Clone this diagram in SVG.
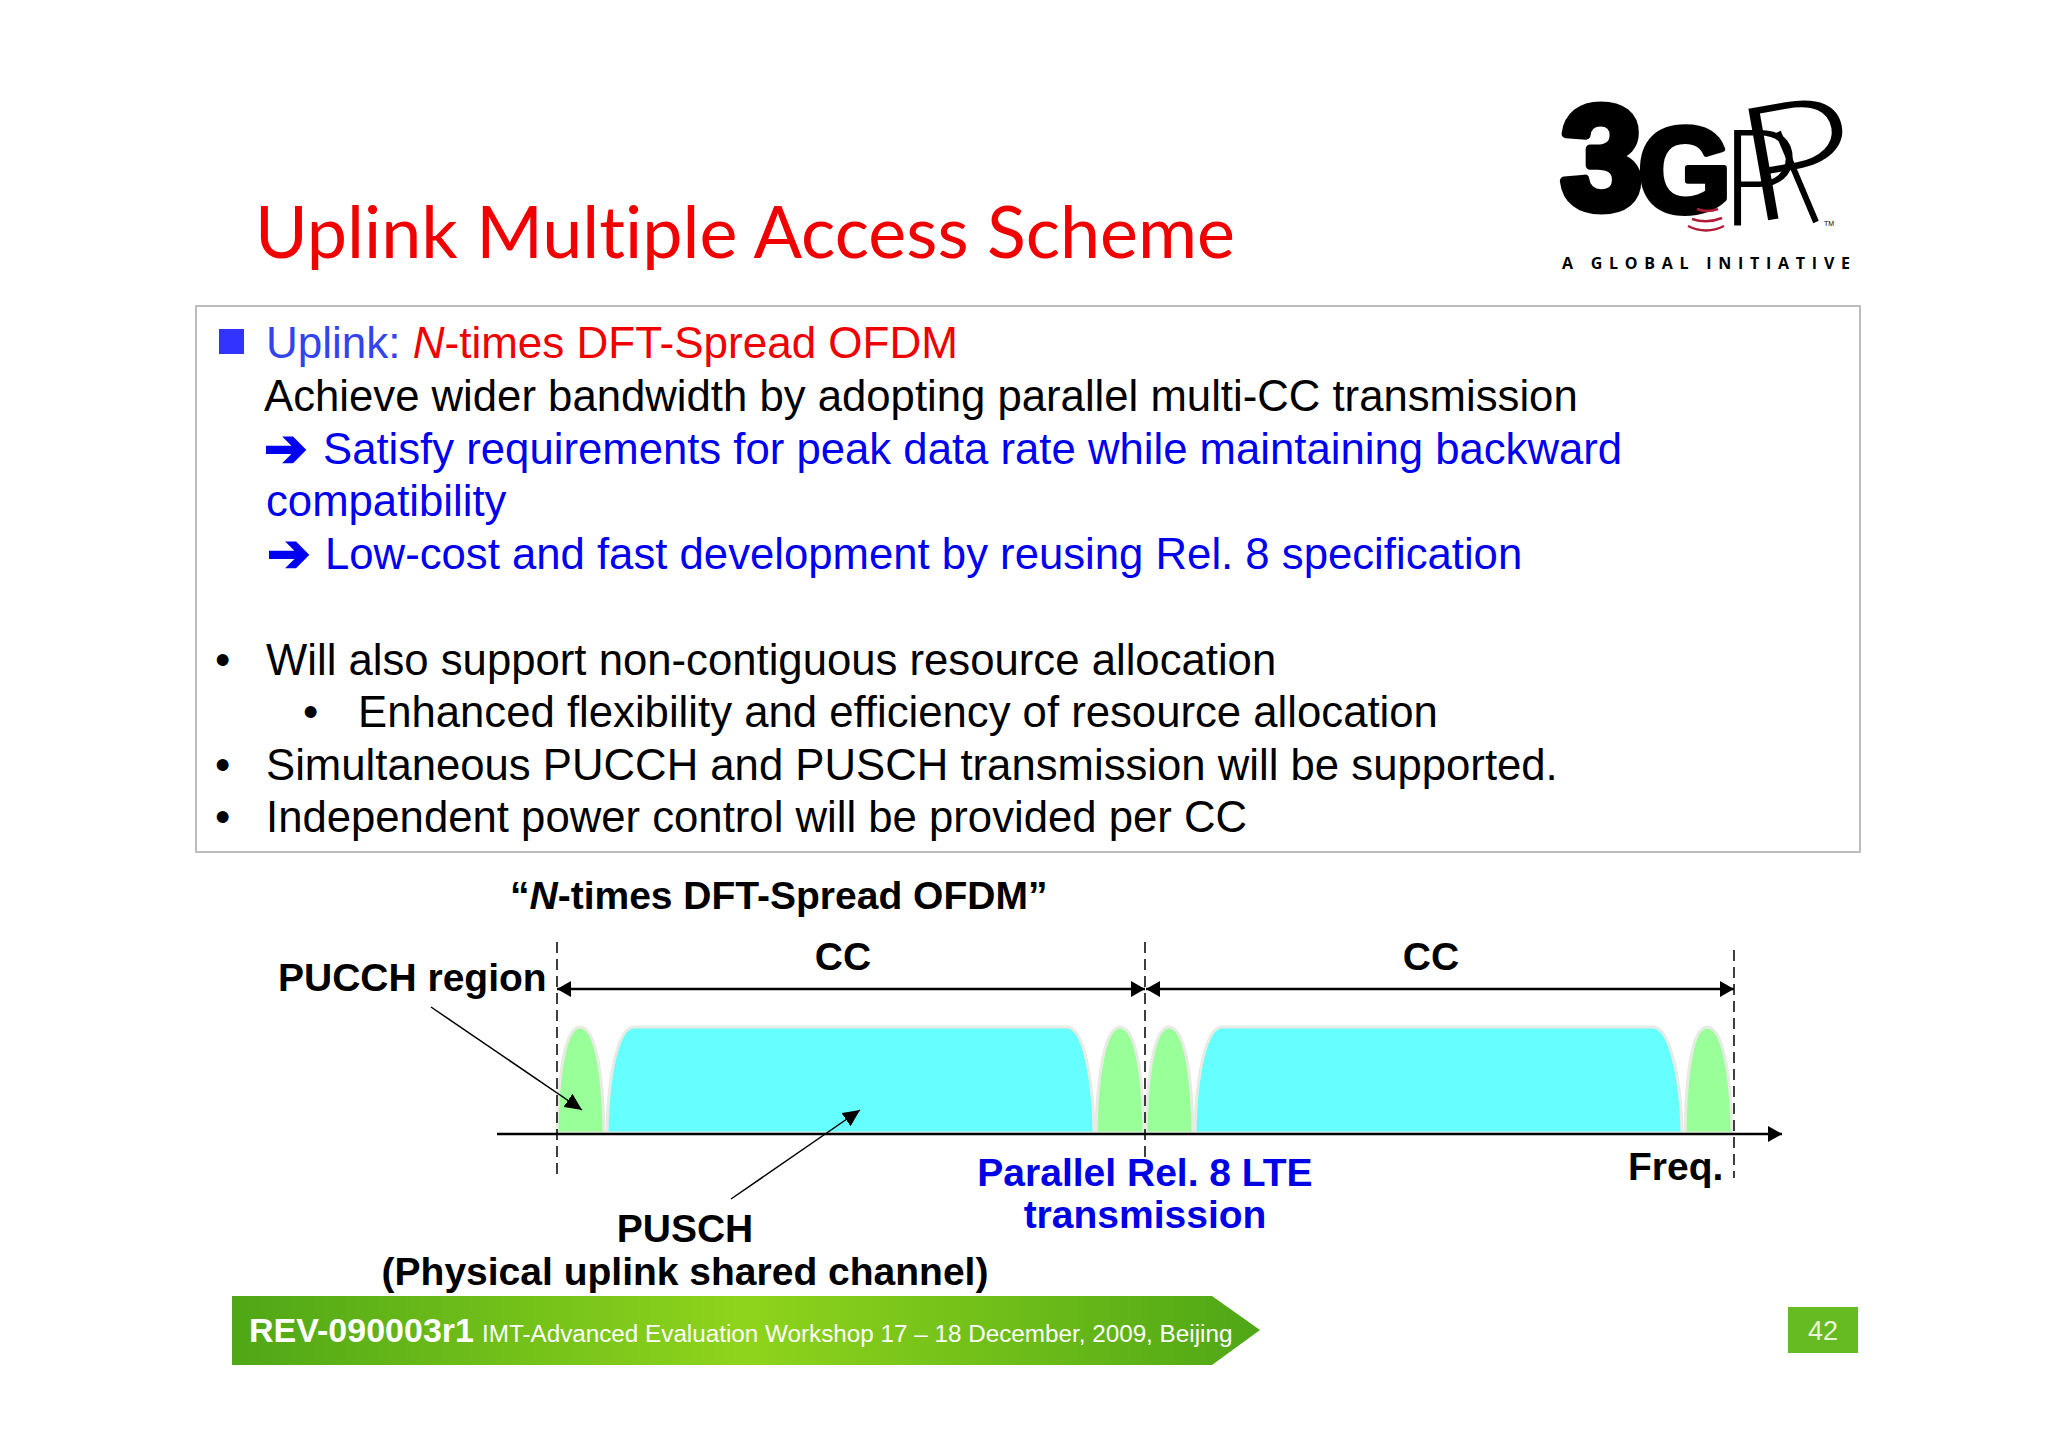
<svg xmlns="http://www.w3.org/2000/svg" width="2048" height="1447" viewBox="0 0 2048 1447">
<style>
text{font-family:"Liberation Sans",Arial,sans-serif}
.b{font-size:43.7px;fill:#000}
.bl{font-size:43.7px;fill:#0000f0}
.ar{font-family:"DejaVu Sans",sans-serif;font-size:52px;fill:#0000f0;stroke:#0000f0;stroke-width:2}
.h{font-size:39px;font-weight:bold;fill:#000}
.hb{font-size:39px;font-weight:bold;fill:#0000e6}
.m{text-anchor:middle}
.pu{fill:#66ffff;stroke:#e8ebe4;stroke-width:3}
.gr{fill:#99ff99;stroke:#e8ebe4;stroke-width:3}
.thin{stroke:#000;stroke-width:1.5;fill:none}
.dash{stroke:#000;stroke-width:1.5;stroke-dasharray:11 6;fill:none}
.line{stroke:#000;stroke-width:2.5;fill:none}
.lg{font-family:"Liberation Sans",sans-serif;font-weight:bold;fill:#000;stroke:#000;stroke-linejoin:round}
.lp{font-family:Lato,sans-serif;font-weight:300;font-size:100px;fill:#000}
</style>
<defs>
<linearGradient id="fg" x1="0" x2="1" y1="0" y2="0"><stop offset="0" stop-color="#4fa716"/><stop offset="0.5" stop-color="#8fd41c"/><stop offset="1" stop-color="#4fa716"/></linearGradient>
<marker id="ah" markerUnits="userSpaceOnUse" markerWidth="15" markerHeight="16" refX="14" refY="8" orient="auto-start-reverse"><path d="M0 0L14 8L0 16z" fill="#000"/></marker>
<marker id="ah2" markerUnits="userSpaceOnUse" markerWidth="18" markerHeight="16" refX="17" refY="8" orient="auto"><path d="M0 0L17 8L0 16z" fill="#000"/></marker>
</defs>
<rect width="2048" height="1447" fill="#fff"/>
<g id="title"><text x="255" y="258" style="font-family:Lato,sans-serif;font-size:72px;fill:#f00000;font-variant-ligatures:none" textLength="980" lengthAdjust="spacingAndGlyphs">Uplink Multiple Access Scheme</text></g>
<g id="logo">
<text class="lp" transform="translate(1720 225) scale(1.35 1.35)">P</text>
<text class="lp" transform="translate(1747 224) rotate(-10) scale(2.05 1.6)">P</text>
<path d="M1778 132L1816 222" fill="none" stroke="#000" stroke-width="6"/>
<text class="lg" transform="translate(1561 208)" style="font-size:146px;stroke-width:9">3</text>
<text class="lg" transform="translate(1638 212)" style="font-size:120px;stroke-width:6">G</text>
<path d="M1697 209q10 4 21 0M1692 219q15 5 30 -1M1688 226q18 9 36 0" fill="none" stroke="#b01c38" stroke-width="2.5"/>
<text x="1824" y="226" style="font-size:7px;fill:#000">TM</text>
<text x="1562" y="269" textLength="288" style="font-family:'Open Sans',sans-serif;font-weight:bold;font-size:16px;fill:#000" lengthAdjust="spacing">A GLOBAL INITIATIVE</text>
</g>
<g id="body">
<rect x="196" y="306" width="1664" height="546" fill="#fff" stroke="#bdbdbd" stroke-width="2"/>
<rect x="219" y="329" width="25" height="25" fill="#3333ff"/>
<text x="266" y="358" style="font-size:44px"><tspan fill="#3344ee">Uplink: </tspan><tspan fill="#f00000"><tspan font-style="italic">N</tspan>-times DFT-Spread OFDM</tspan></text>
<text class="b" x="264" y="411">Achieve wider bandwidth by adopting parallel multi-CC transmission</text>
<text class="ar" x="264" y="466">➔</text>
<text class="bl" x="323" y="464">Satisfy requirements for peak data rate while maintaining backward</text>
<text class="bl" x="266" y="516">compatibility</text>
<text class="ar" x="267" y="571">➔</text>
<text class="bl" x="325" y="569">Low-cost and fast development by reusing Rel. 8 specification</text>
<text class="b" x="215" y="674.500">•</text>
<text class="b" x="266" y="674.500">Will also support non-contiguous resource allocation</text>
<text class="b" x="303" y="727">•</text>
<text class="b" x="358" y="727">Enhanced flexibility and efficiency of resource allocation</text>
<text class="b" x="215" y="779.500">•</text>
<text class="b" x="266" y="779.500">Simultaneous PUCCH and PUSCH transmission will be supported.</text>
<text class="b" x="215" y="832">•</text>
<text class="b" x="266" y="832">Independent power control will be provided per CC</text>
</g>
<g id="spectrum">
<path id="g1" class="gr" d="M557 1133C558 1075 565 1027 580 1027C596 1027 603 1075 604 1133Z"/>
<path id="c1" class="pu" d="M607 1133C608 1075 618 1027 634 1027H1067C1083 1027 1093 1075 1094 1133Z"/>
<path id="g2" class="gr" d="M1096 1133C1097 1075 1105 1027 1120 1027C1136 1027 1143 1075 1144 1133Z"/>
<path id="g3" class="gr" d="M1146 1133C1147 1075 1154 1027 1169 1027C1185 1027 1192 1075 1193 1133Z"/>
<path id="c2" class="pu" d="M1195 1133C1196 1075 1206 1027 1222 1027H1653C1669 1027 1681 1075 1682 1133Z"/>
<path id="g4" class="gr" d="M1685 1133C1686 1075 1692 1027 1707 1027C1723 1027 1731 1075 1732 1133Z"/>
</g>
<g id="connectors">
<line class="line" x1="497" y1="1134" x2="1782" y2="1134" marker-end="url(#ah)"/>
<line class="dash" x1="557" y1="942" x2="557" y2="1178"/>
<line class="dash" x1="1145" y1="942" x2="1145" y2="1158"/>
<line class="dash" x1="1734" y1="950" x2="1734" y2="1178"/>
<line class="line" x1="557" y1="989" x2="1145" y2="989" marker-start="url(#ah)" marker-end="url(#ah)"/>
<line class="line" x1="1146" y1="989" x2="1734" y2="989" marker-start="url(#ah)" marker-end="url(#ah)"/>
<line class="thin" x1="431" y1="1007" x2="582" y2="1110" marker-end="url(#ah2)"/>
<line class="thin" x1="731" y1="1199" x2="860" y2="1110" marker-end="url(#ah2)"/>
</g>
<g id="labels">
<text class="h" x="510" y="909">“<tspan font-style="italic">N</tspan>-times DFT-Spread OFDM”</text>
<text class="h" x="278" y="991">PUCCH region</text>
<text class="h m" x="843" y="970">CC</text>
<text class="h m" x="1431" y="970">CC</text>
<text class="hb m" x="1145" y="1186">Parallel Rel. 8 LTE</text>
<text class="hb m" x="1145" y="1228">transmission</text>
<text class="h" x="1628" y="1180">Freq.</text>
<text class="h m" x="685" y="1242">PUSCH</text>
<text class="h m" x="685" y="1285">(Physical uplink shared channel)</text>
</g>
<g id="footer">
<path d="M232 1296H1212L1260 1330L1212 1365H232Z" fill="url(#fg)"/>
<text x="249" y="1342" style="font-size:34px;font-weight:bold;fill:#fff">REV-090003r1</text>
<text x="482" y="1342" style="font-size:24.250px;fill:#fff">IMT-Advanced Evaluation Workshop 17 – 18 December, 2009, Beijing</text>
</g>
<g id="page">
<rect x="1788" y="1307" width="70" height="46" fill="#66bb22"/>
<text x="1823" y="1340" class="m" style="font-size:27px;fill:#e8f5d8">42</text>
</g>
</svg>
